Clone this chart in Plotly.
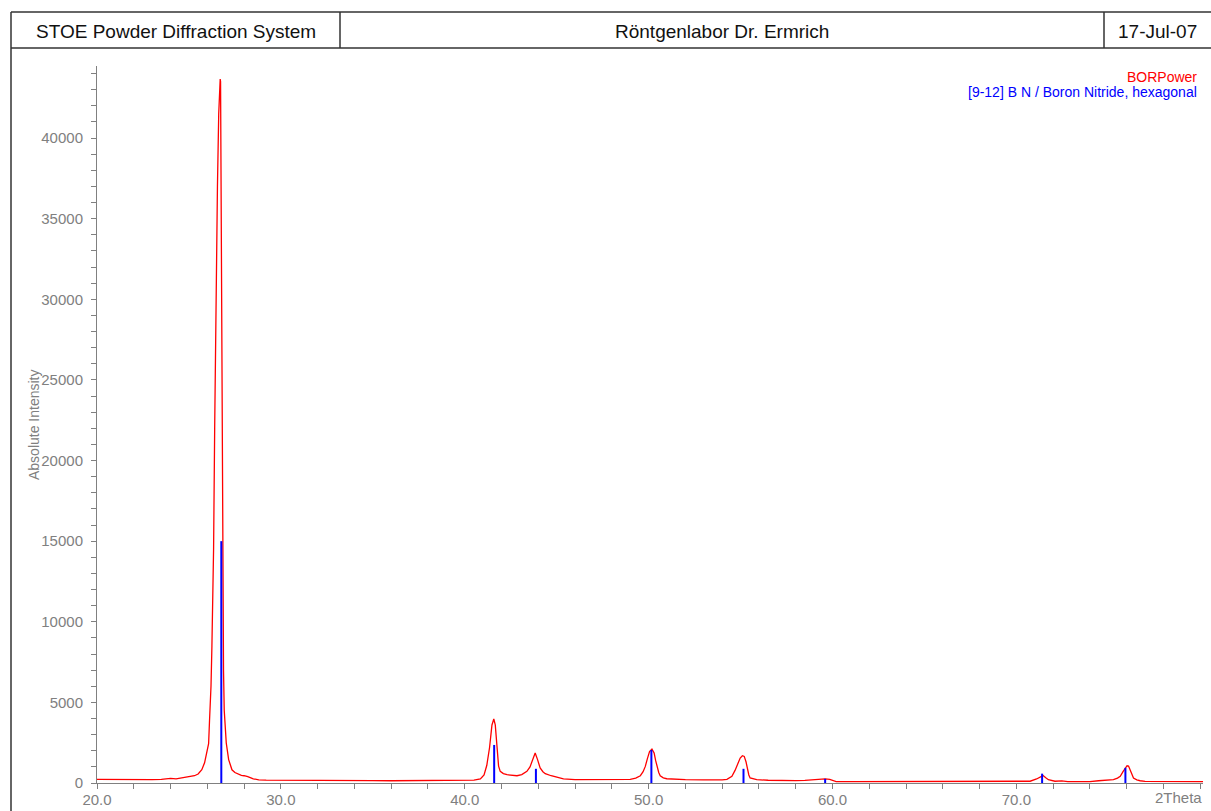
import plotly.graph_objects as go

# ---------------- data ----------------
two_theta = [
    20.0, 20.5, 21.0, 21.5, 22.0, 22.5, 23.0, 23.5, 24.0, 24.3, 24.6, 25.0, 25.3, 25.5,
    25.7, 25.85, 25.93, 26.0, 26.07, 26.12, 26.2, 26.25, 26.3, 26.34, 26.4, 26.47,
    26.55, 26.62, 26.67, 26.7, 26.72, 26.74, 26.77, 26.81, 26.85, 26.88, 26.92,
    26.97, 27.03, 27.16, 27.34, 27.5, 27.7, 27.85, 28.0, 28.2, 28.5, 28.8, 29.2,
    29.6, 30.0, 31.0, 32.0, 33.0, 34.0, 35.0, 36.0, 37.0, 38.0, 39.0, 40.0, 40.5,
    40.85, 41.05, 41.2, 41.35, 41.48, 41.58, 41.66, 41.75, 41.84, 41.93, 42.1,
    42.3, 42.6, 42.84, 43.1, 43.38, 43.55, 43.7, 43.83, 43.96, 44.1, 44.25, 44.38,
    44.7, 45.0, 45.37, 46.0, 47.0, 48.0, 49.0, 49.3, 49.55, 49.7, 49.82, 49.93,
    50.05, 50.18, 50.3, 50.38, 50.45, 50.55, 50.63, 50.8, 50.99, 51.5, 52.0, 53.0,
    53.5, 54.0, 54.26, 54.53, 54.7, 54.8, 54.9, 54.98, 55.1, 55.2, 55.3, 55.38,
    55.45, 55.52, 55.7, 55.88, 56.5, 57.0, 57.5, 58.0, 58.5, 58.97, 59.33, 59.6,
    59.85, 60.05, 60.2, 61.0, 62.0, 63.0, 64.0, 65.0, 66.0, 67.0, 68.0, 69.0, 70.0,
    70.5, 70.75, 71.1, 71.3, 71.45, 71.6, 71.74, 72.1, 72.47, 72.8, 73.5, 74.0,
    74.47, 74.9, 75.28, 75.5, 75.65, 75.8, 75.92, 76.02, 76.1, 76.19, 76.3, 76.37,
    76.55, 76.73, 77.0, 78.0, 79.0, 80.15,
]
intensity = [
    230, 220, 210, 200, 205, 195, 210, 230, 290, 260, 310, 370, 450, 560,
    820, 1250, 1650, 1900, 2440, 3880, 6000, 8500, 11500, 14500, 22000, 30200,
    37000, 41500, 43300, 43660, 43500, 38000, 29000, 18000, 12000, 7000, 4500,
    3200, 2480, 1450, 820, 650, 520, 470, 450, 400, 260, 200, 180,
    175, 165, 160, 150, 155, 150, 145, 140, 150, 145, 150, 160, 180,
    250, 500, 1100, 2200, 3600, 3970, 3600, 2100, 1050, 720, 580,
    515, 470, 450, 520, 720, 1000, 1450, 1860, 1450, 930, 700, 580,
    450, 370, 250, 210, 200, 200, 220, 300, 450, 700, 1030, 1500,
    1950, 2100, 1860, 1400, 1030, 650, 450, 320, 265, 220, 210, 200,
    190, 200, 230, 410, 780, 1030, 1350, 1550, 1690, 1650, 1300, 825,
    500, 310, 240, 205, 170, 150, 145, 150, 160, 205, 265, 260,
    230, 160, 90, 80, 85, 75, 80, 80, 75, 80, 80, 80, 85,
    95, 110, 250, 380, 460, 320, 205, 110, 130, 90, 85, 90,
    140, 160, 205, 300, 410, 700, 930, 1070, 1050, 825, 500, 310,
    200, 140, 100, 80, 80, 80,
]

ref_pos = [26.76, 41.60, 43.87, 50.15, 55.16, 59.60, 71.40, 75.93]
ref_int = [15000, 2360, 880, 2050, 880, 260, 580, 940]

x_major = [20, 30, 40, 50, 60, 70]
x_labels = ["20.0", "30.0", "40.0", "50.0", "60.0", "70.0"]

header_left = "STOE Powder Diffraction System"
header_mid = "Röntgenlabor Dr. Ermrich"
header_right = "17-Jul-07"
sample_name = "BORPower"
ref_name = "[9-12] B N / Boron Nitride, hexagonal"
y_title = "Absolute Intensity"
x_title = "2Theta"

# ---------------- layout geometry (pixels) ----------------
W, H = 1211, 811
L, R, T, B = 97, 8, 66, 28
PW, PH = W - L - R, H - T - B

def px(x):
    return (x - L) / PW

def py(y):
    return (H - B - y) / PH

FONT = "Liberation Sans, Arial, sans-serif"
GRAY = "#808080"

# stick segments for the reference pattern
stick_x, stick_y = [], []
for p, i in zip(ref_pos, ref_int):
    stick_x += [p, p, None]
    stick_y += [0, i, None]

fig = go.Figure()
fig.add_trace(go.Scatter(x=two_theta, y=intensity, mode="lines",
                         line=dict(color="#ff0000", width=1.3),
                         name=sample_name, showlegend=False, hoverinfo="x+y"))
fig.add_trace(go.Scatter(x=stick_x, y=stick_y, mode="lines",
                         line=dict(color="#0000ff", width=2),
                         name=ref_name, showlegend=False, hoverinfo="x+y"))

fig.update_layout(
    width=W, height=H, autosize=False,
    margin=dict(l=L, r=R, t=T, b=B, pad=0, autoexpand=False),
    paper_bgcolor="white", plot_bgcolor="white",
    font=dict(family=FONT, color=GRAY, size=15),
    showlegend=False,
    xaxis=dict(range=[20, 80.15], showgrid=False, zeroline=False,
               automargin=False,
               showline=True, linecolor=GRAY, linewidth=1,
               tickmode="array", tickvals=x_major, ticktext=x_labels,
               ticks="outside", ticklen=5, tickcolor=GRAY, tickwidth=1,
               ticklabelstandoff=-2,
               tickfont=dict(family=FONT, size=15, color=GRAY),
               minor=dict(dtick=2, tick0=20, ticks="outside", ticklen=5,
                          tickcolor=GRAY, tickwidth=1, showgrid=False)),
    yaxis=dict(range=[0, 44470], showgrid=False, zeroline=False,
               automargin=False,
               showline=True, linecolor=GRAY, linewidth=1,
               tick0=0, dtick=5000, tickformat="d",
               ticks="outside", ticklen=5, tickcolor=GRAY, tickwidth=1,
               ticklabelstandoff=5,
               tickfont=dict(family=FONT, size=15, color=GRAY),
               minor=dict(dtick=1000, tick0=0, ticks="outside", ticklen=5,
                          tickcolor=GRAY, tickwidth=1, showgrid=False)),
)

FRAME = "#333333"
shapes = []
def hline(y, x0, x1):
    shapes.append(dict(type="line", xref="paper", yref="paper",
                       x0=px(x0), x1=px(x1), y0=py(y), y1=py(y),
                       line=dict(color=FRAME, width=1.5)))
def vline(x, y0, y1):
    shapes.append(dict(type="line", xref="paper", yref="paper",
                       x0=px(x), x1=px(x), y0=py(y0), y1=py(y1),
                       line=dict(color=FRAME, width=1.5)))

hline(12, 11, 1215)
hline(48, 11, 1215)
vline(11, 12, 815)
vline(340, 12, 48)
vline(1104, 12, 48)
fig.update_layout(shapes=shapes)

ann = []
def text(t, x, y, size, color, xanchor="center", angle=0):
    ann.append(dict(text=t, x=px(x), y=py(y), xref="paper", yref="paper",
                    showarrow=False, xanchor=xanchor, yanchor="middle",
                    textangle=angle,
                    font=dict(family=FONT, size=size, color=color)))

text(header_left, 175.5, 32, 19, "#111111")
text(header_mid, 722, 32, 19, "#111111")
text(header_right, 1157, 32, 19, "#111111")
text(sample_name, 1199, 77, 14, "#ff0000", xanchor="right")
text(ref_name, 1199, 92, 14, "#0000ff", xanchor="right")
text(y_title, 34, 425, 14, GRAY, angle=-90)
text(x_title, 1204, 797, 15, GRAY, xanchor="right")
fig.update_layout(annotations=ann)

fig.write_html(
    "out.html",
    config={"displayModeBar": False},
    post_script="document.body.style.margin='0';document.body.style.overflow='hidden';",
)
